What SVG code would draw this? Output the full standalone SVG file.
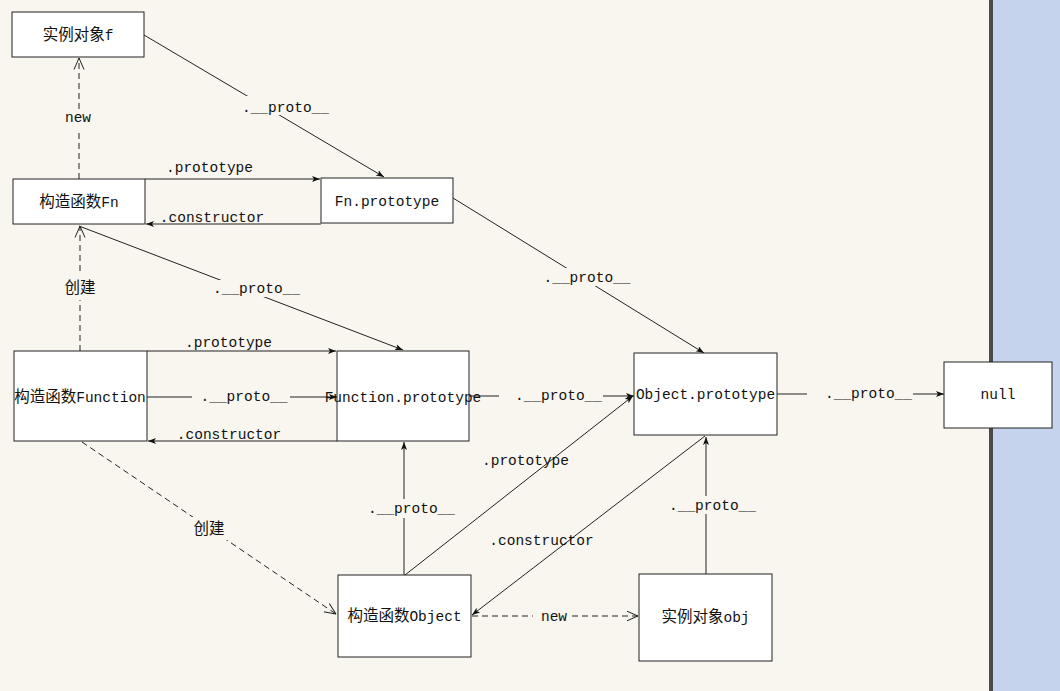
<svg xmlns="http://www.w3.org/2000/svg" width="1060" height="691" viewBox="0 0 1060 691">
<style>
.box{fill:#fff;stroke:#222;stroke-width:1}
.ln{fill:none;stroke:#222;stroke-width:1}
.ds{fill:none;stroke:#222;stroke-width:1;stroke-dasharray:6 4}
.t{font-family:"Liberation Mono","Noto Sans CJK SC",monospace;font-size:14.5px;fill:#111}
.c{font-family:"Noto Sans CJK SC",sans-serif;font-size:15.5px}
.m{text-anchor:middle}
.bg{fill:#f8f6ef}
</style>
<defs>
<marker id="fa" viewBox="0 0 8 8" refX="8" refY="4" markerWidth="8" markerHeight="8" orient="auto" markerUnits="userSpaceOnUse"><path d="M0,1 L8,4 L0,7 L2,4 z" fill="#111"/></marker>
<marker id="oa" viewBox="0 0 12 12" refX="11.5" refY="6" markerWidth="12" markerHeight="12" orient="auto" markerUnits="userSpaceOnUse"><path d="M0,1 L11.5,6 L0,11" fill="none" stroke="#222" stroke-width="1"/></marker>
</defs>
<rect x="0" y="0" width="1060" height="691" fill="#f8f6ef"/>
<rect x="993" y="0" width="67" height="691" fill="#c5d3ec"/>
<rect x="989" y="0" width="4" height="691" fill="#4a4a4a"/>

<g id="connectors">
<line class="ln" x1="144" y1="35" x2="384" y2="177" marker-end="url(#fa)"/>
<rect class="bg" x="241" y="96" width="90" height="19"/>
<text class="t m" x="285.5" y="112">.__proto__</text>

<line class="ds" x1="79" y1="179" x2="79" y2="58" marker-end="url(#oa)"/>
<rect class="bg" x="65" y="109" width="28" height="20"/>
<text class="t m" x="78" y="122">new</text>

<line class="ln" x1="145" y1="179" x2="320" y2="179" marker-end="url(#fa)"/>
<text class="t m" x="209.5" y="172">.prototype</text>

<line class="ln" x1="321" y1="224" x2="146" y2="224" marker-end="url(#fa)"/>
<text class="t m" x="212" y="222">.constructor</text>

<line class="ds" x1="80" y1="351" x2="80" y2="226" marker-end="url(#oa)"/>
<rect class="bg" x="62" y="275" width="35" height="25"/>
<text class="t m" x="80" y="293"><tspan class="c">创建</tspan></text>

<line class="ln" x1="453" y1="198" x2="704" y2="353" marker-end="url(#fa)"/>
<rect class="bg" x="542" y="268" width="90" height="18"/>
<text class="t m" x="587" y="282">.__proto__</text>

<line class="ln" x1="79" y1="226" x2="403" y2="350" marker-end="url(#fa)"/>
<rect class="bg" x="211" y="280" width="91" height="17"/>
<text class="t m" x="256.5" y="293">.__proto__</text>

<line class="ln" x1="147" y1="351" x2="336" y2="351" marker-end="url(#fa)"/>
<text class="t m" x="228.5" y="347">.prototype</text>

<line class="ln" x1="147" y1="397" x2="337" y2="397" marker-end="url(#fa)"/>
<rect class="bg" x="192" y="389" width="98" height="16"/>
<text class="t m" x="244" y="401">.__proto__</text>

<line class="ln" x1="337" y1="441" x2="148" y2="441" marker-end="url(#fa)"/>
<text class="t m" x="229" y="439">.constructor</text>

<line class="ln" x1="469" y1="396" x2="634" y2="396" marker-end="url(#fa)"/>
<rect class="bg" x="499" y="388" width="104" height="16"/>
<text class="t m" x="558.5" y="400">.__proto__</text>

<line class="ln" x1="777" y1="394" x2="944" y2="394" marker-end="url(#fa)"/>
<rect class="bg" x="807" y="386" width="106" height="16"/>
<text class="t m" x="868.5" y="398">.__proto__</text>

<line class="ln" x1="404" y1="575" x2="404" y2="442" marker-end="url(#fa)"/>
<rect class="bg" x="366" y="499" width="91" height="19"/>
<text class="t m" x="411.5" y="513">.__proto__</text>

<line class="ln" x1="405" y1="575" x2="633" y2="396" marker-end="url(#fa)"/>
<text class="t m" x="525.5" y="465">.prototype</text>

<line class="ln" x1="705" y1="436" x2="472" y2="615" marker-end="url(#fa)"/>
<text class="t m" x="541.5" y="545">.constructor</text>

<line class="ln" x1="706" y1="574" x2="706" y2="437" marker-end="url(#fa)"/>
<rect class="bg" x="667" y="496" width="91" height="18"/>
<text class="t m" x="712.5" y="510">.__proto__</text>

<line class="ds" x1="472" y1="616" x2="638" y2="616" marker-end="url(#oa)"/>
<rect class="bg" x="533" y="609" width="35" height="16"/>
<text class="t m" x="554" y="621">new</text>

<line class="ds" x1="82" y1="442" x2="336" y2="614" marker-end="url(#oa)"/>
<rect class="bg" x="192" y="517" width="36" height="23"/>
<text class="t m" x="209" y="534"><tspan class="c">创建</tspan></text>
</g>

<g id="node-f">
<rect class="box" x="12" y="12" width="132" height="45"/>
<text class="t m" x="78" y="40"><tspan class="c">实例对象</tspan>f</text>
</g>
<g id="node-Fn">
<rect class="box" x="13" y="179" width="132" height="45"/>
<text class="t m" x="79" y="207"><tspan class="c">构造函数</tspan>Fn</text>
</g>
<g id="node-FnPrototype">
<rect class="box" x="321" y="178" width="132" height="45"/>
<text class="t m" x="387" y="206">Fn.prototype</text>
</g>
<g id="node-Function">
<rect class="box" x="14" y="351" width="133" height="90"/>
<text class="t m" x="80" y="402"><tspan class="c">构造函数</tspan>Function</text>
</g>
<g id="node-FunctionPrototype">
<rect class="box" x="337" y="351" width="132" height="90"/>
<text class="t m" x="403" y="402">Function.prototype</text>
</g>
<g id="node-ObjectPrototype">
<rect class="box" x="634" y="353" width="143" height="82"/>
<text class="t m" x="705.5" y="399">Object.prototype</text>
</g>
<g id="node-null">
<rect class="box" x="944" y="362" width="108" height="66"/>
<text class="t m" x="998" y="399">null</text>
</g>
<g id="node-Object">
<rect class="box" x="338" y="575" width="133" height="82"/>
<text class="t m" x="404.5" y="621"><tspan class="c">构造函数</tspan>Object</text>
</g>
<g id="node-obj">
<rect class="box" x="639" y="574" width="133" height="87"/>
<text class="t m" x="705.5" y="622"><tspan class="c">实例对象</tspan>obj</text>
</g>
</svg>
